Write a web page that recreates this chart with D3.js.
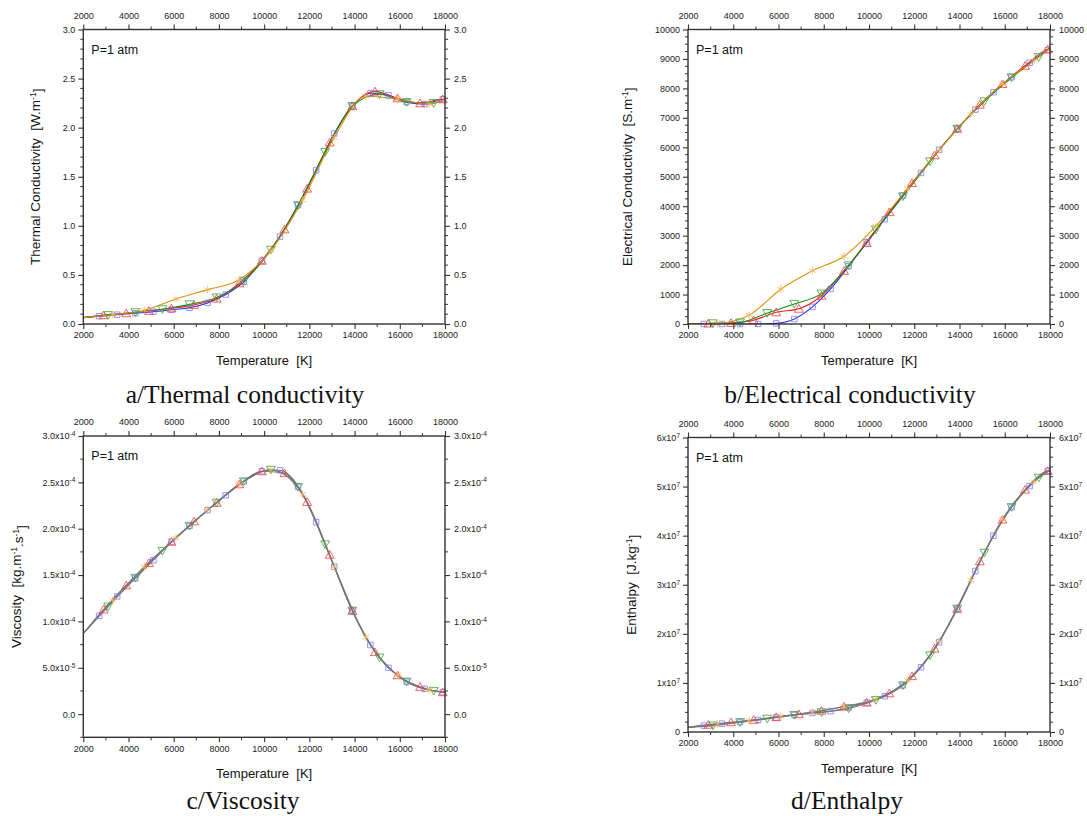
<!DOCTYPE html>
<html><head><meta charset="utf-8">
<script src="https://cdn.jsdelivr.net/npm/d3@7"></script>
<style>
body{margin:0;background:#fff;}
svg text{white-space:pre;}
</style></head>
<body>
<svg id="chart" width="1087" height="816"></svg>
<script>
// ---------------- DATA ----------------
const xTickValues = [2000,4000,6000,8000,10000,12000,14000,16000,18000];
const xTickLabels = ["2000","4000","6000","8000","10000","12000","14000","16000","18000"];
const tempRange = [2000, 18000];

// marker temperatures of each series (K)
const blueT   = [2700,3500,4300,5100,5900,6700,7500,8300,9100,9900,10700,11500,12300,13100,13900,14700,15500,16300,17100,17900];
const redT    = [2900,3900,4900,5900,6900,7900,8900,9900,10900,11900,12900,13900,14900,15900,16900,17900];
const greenT  = [3100,4300,5500,6700,7900,9100,10300,11500,12700,13900,15100,16300,17500];
const orangeT = [3300,4700,6100,7500,8900,10300,11700,13100,14500,15900,17300];

// a/ Thermal conductivity
const thermalBlue   = [0.08,0.095,0.11,0.125,0.145,0.165,0.215,0.30,0.43,0.645,0.89,1.21,1.565,1.94,2.22,2.35,2.33,2.26,2.24,2.29];
const thermalRed    = [0.09,0.11,0.135,0.16,0.195,0.26,0.415,0.645,0.965,1.38,1.85,2.22,2.37,2.30,2.25,2.29];
const thermalGreen  = [0.09,0.12,0.15,0.20,0.27,0.44,0.755,1.21,1.75,2.22,2.34,2.26,2.25];
const thermalOrange = [0.095,0.14,0.255,0.35,0.45,0.75,1.26,1.90,2.32,2.29,2.24];
const thermalEnds   = [0.065, 2.29];
const thermalYTicks = [0,0.5,1.0,1.5,2.0,2.5,3.0];
const thermalYLabels = ["0.0","0.5","1.0","1.5","2.0","2.5","3.0"];

// b/ Electrical conductivity
const elecBlue   = [0,0,0,0,20,170,580,1190,1960,2780,3560,4360,5130,5920,6620,7280,7870,8380,8870,9300];
const elecRed    = [20,40,130,400,520,960,1810,2750,3800,4790,5730,6630,7450,8150,8770,9330];
const elecGreen  = [20,50,370,680,1030,1990,3200,4330,5520,6630,7560,8370,9060];
const elecOrange = [20,300,1180,1810,2300,3320,4590,5910,7130,8150,8950];
const elecEnds   = [0, 9350];
const elecYTicks = [0,1000,2000,3000,4000,5000,6000,7000,8000,9000,10000];
const elecYLabels = ["0","1000","2000","3000","4000","5000","6000","7000","8000","9000","10000"];

// c/ Viscosity
const viscBlue   = [1.06e-4,1.27e-4,1.465e-4,1.66e-4,1.86e-4,2.03e-4,2.20e-4,2.36e-4,2.51e-4,2.62e-4,2.63e-4,2.45e-4,2.07e-4,1.59e-4,1.115e-4,0.745e-4,0.50e-4,0.35e-4,0.273e-4,0.237e-4];
const viscRed    = [1.13e-4,1.39e-4,1.63e-4,1.86e-4,2.08e-4,2.28e-4,2.48e-4,2.62e-4,2.60e-4,2.29e-4,1.72e-4,1.115e-4,0.67e-4,0.42e-4,0.295e-4,0.237e-4];
const viscGreen  = [1.16e-4,1.47e-4,1.76e-4,2.03e-4,2.28e-4,2.51e-4,2.635e-4,2.45e-4,1.83e-4,1.115e-4,0.61e-4,0.35e-4,0.25e-4];
const viscOrange = [1.23e-4,1.59e-4,1.90e-4,2.20e-4,2.48e-4,2.635e-4,2.37e-4,1.59e-4,0.83e-4,0.42e-4,0.26e-4];
const viscEnds   = [0.87e-4, 0.235e-4];
const viscYTicks = [0,5e-5,1e-4,1.5e-4,2e-4,2.5e-4,3e-4];
const viscYLabels = [["0.0",""],["5.0x10","-5"],["1.0x10","-4"],["1.5x10","-4"],["2.0x10","-4"],["2.5x10","-4"],["3.0x10","-4"]];

// d/ Enthalpy
const enthBlue   = [0.13e7,0.17e7,0.20e7,0.245e7,0.295e7,0.345e7,0.39e7,0.425e7,0.50e7,0.60e7,0.73e7,0.95e7,1.32e7,1.83e7,2.51e7,3.28e7,4.00e7,4.58e7,5.01e7,5.32e7];
const enthRed    = [0.15e7,0.20e7,0.25e7,0.305e7,0.365e7,0.435e7,0.52e7,0.60e7,0.79e7,1.14e7,1.70e7,2.51e7,3.48e7,4.33e7,4.94e7,5.32e7];
const enthGreen  = [0.13e7,0.20e7,0.27e7,0.345e7,0.40e7,0.48e7,0.65e7,0.95e7,1.56e7,2.51e7,3.65e7,4.58e7,5.18e7];
const enthOrange = [0.16e7,0.23e7,0.32e7,0.40e7,0.52e7,0.67e7,1.05e7,1.85e7,3.09e7,4.33e7,5.10e7];
const enthEnds   = [0.095e7, 5.33e7];
const enthYTicks = [0,1e7,2e7,3e7,4e7,5e7,6e7];
const enthYLabels = [["0",""],["1x10","7"],["2x10","7"],["3x10","7"],["4x10","7"],["5x10","7"],["6x10","7"]];

// ---------------- DRAW ----------------
const svg = d3.select("#chart");
svg.append("rect").attr("width",1087).attr("height",816).attr("fill","#fff");
const SANS = "'Liberation Sans', Arial, sans-serif";
const SERIF = "'Liberation Serif', 'Times New Roman', serif";

const markerStyles = [
  {line:"#2b2bdc", mark:"#7b7bff", sym:d3.symbolSquare, size:30, rot:0},
  {line:"#e62020", mark:"#ff3a3a", sym:d3.symbolTriangle, size:34, rot:0},
  {line:"#118a11", mark:"#3aa53a", sym:d3.symbolTriangle, size:34, rot:180},
  {line:"#e0900a", mark:"#f2b45a", sym:(d3.symbolAsterisk||d3.symbolStar), size:42, rot:0}
];

function addSup(textSel, main, sup, supSize){
  textSel.append("tspan").text(main);
  if (sup) {
    textSel.append("tspan").attr("dy","-0.5em").attr("font-size",supSize).text(sup);
  }
}

function panel(cfg){
  const g = svg.append("g");
  const x = d3.scaleLinear().domain(tempRange).range([cfg.x0, cfg.x1]);
  const y = d3.scaleLinear().domain(cfg.yDomain).range([cfg.y1, cfg.y0]);
  const axisColor = "#333";

  // minor ticks
  const minorX = d3.range(3000, 18000, 2000);
  const minorY = [];
  for (let v = cfg.yDomain[0]; v <= cfg.yDomain[1] + 1e-12*Math.abs(cfg.yDomain[1]); v += cfg.yMinor) {
    const isMajor = cfg.yTicks.some(t => Math.abs(t - v) < cfg.yMinor*1e-3);
    if (!isMajor) minorY.push(v);
  }
  const mg = g.append("g").attr("stroke", axisColor).attr("stroke-width",1);
  minorX.forEach(v=>{
    mg.append("line").attr("x1",x(v)).attr("x2",x(v)).attr("y1",cfg.y1).attr("y2",cfg.y1+3);
    mg.append("line").attr("x1",x(v)).attr("x2",x(v)).attr("y1",cfg.y0).attr("y2",cfg.y0-3);
  });
  minorY.forEach(v=>{
    mg.append("line").attr("x1",cfg.x0).attr("x2",cfg.x0-3).attr("y1",y(v)).attr("y2",y(v));
    mg.append("line").attr("x1",cfg.x1).attr("x2",cfg.x1+3).attr("y1",y(v)).attr("y2",y(v));
  });

  // major axes
  const styleAxis = sel => {
    sel.select(".domain").remove();
    sel.selectAll(".tick line").attr("stroke", axisColor).attr("stroke-width",1.1);
    sel.selectAll("text").attr("font-family",SANS).attr("font-size",9).attr("fill","#222");
  };
  g.append("g").attr("transform",`translate(0,${cfg.y1})`)
    .call(d3.axisBottom(x).tickValues(xTickValues).tickSize(5).tickPadding(3).tickFormat((d,i)=>xTickLabels[i]))
    .call(styleAxis);
  g.append("g").attr("transform",`translate(0,${cfg.y0})`)
    .call(d3.axisTop(x).tickValues(xTickValues).tickSize(5).tickPadding(6).tickFormat((d,i)=>xTickLabels[i]))
    .call(styleAxis);
  const lab = (d,i)=> Array.isArray(cfg.yLabels[i]) ? "" : cfg.yLabels[i];
  const ayL = g.append("g").attr("transform",`translate(${cfg.x0},0)`)
    .call(d3.axisLeft(y).tickValues(cfg.yTicks).tickSize(5).tickPadding(3).tickFormat(lab))
    .call(styleAxis);
  const ayR = g.append("g").attr("transform",`translate(${cfg.x1},0)`)
    .call(d3.axisRight(y).tickValues(cfg.yTicks).tickSize(5).tickPadding(4).tickFormat(lab))
    .call(styleAxis);
  if (Array.isArray(cfg.yLabels[0])) {
    [ayL, ayR].forEach(ax=>{
      ax.selectAll(".tick text").each(function(d,i){
        const t = d3.select(this);
        t.text("");
        addSup(t, cfg.yLabels[i][0], cfg.yLabels[i][1], 6.5);
      });
    });
  }

  // clip
  const cid = "clip"+cfg.id;
  svg.append("clipPath").attr("id",cid).append("rect")
    .attr("x",cfg.x0).attr("y",cfg.y0).attr("width",cfg.x1-cfg.x0).attr("height",cfg.y1-cfg.y0);

  const line = d3.line().x(d=>x(d[0])).y(d=>y(d[1])).curve(d3.curveMonotoneX);
  const lg = g.append("g").attr("clip-path",`url(#${cid})`);
  cfg.series.forEach((s,i)=>{
    const pts = [[tempRange[0], cfg.ends[0]]].concat(s.T.map((t,j)=>[t, s.V[j]])).concat([[tempRange[1], cfg.ends[1]]]);
    lg.append("path").attr("d", line(pts)).attr("fill","none")
      .attr("stroke", cfg.lineColor || markerStyles[i].line).attr("stroke-width",1.1);
  });
  cfg.series.forEach((s,i)=>{
    const st = markerStyles[i];
    const sym = d3.symbol().type(st.sym).size(st.size);
    g.append("g").selectAll("path").data(s.T.map((t,j)=>[t, s.V[j]])).join("path")
      .attr("d", sym)
      .attr("transform", d=>`translate(${x(d[0])},${y(d[1]) + (st.sym===d3.symbolTriangle ? (st.rot?-1:1) : 0)}) rotate(${st.rot})`)
      .attr("fill","none").attr("stroke", st.mark).attr("stroke-width",0.9).attr("stroke-opacity",0.9);
  });

  // frame
  g.append("rect").attr("x",cfg.x0).attr("y",cfg.y0).attr("width",cfg.x1-cfg.x0).attr("height",cfg.y1-cfg.y0)
    .attr("fill","none").attr("stroke",axisColor).attr("stroke-width",1.4);

  // P=1 atm
  g.append("text").attr("x",cfg.x0+8).attr("y",cfg.y0+24).attr("font-family",SANS).attr("font-size",12.5)
    .attr("fill","#111").text("P=1 atm");

  // x title
  g.append("text").attr("x",(cfg.x0+cfg.x1)/2).attr("y",cfg.y1+41).attr("text-anchor","middle")
    .attr("font-family",SANS).attr("font-size",13).attr("fill","#111").text("Temperature  [K]");

  // y title
  const yt = g.append("text").attr("transform",`translate(${cfg.yTitleX},${(cfg.y0+cfg.y1)/2}) rotate(-90)`)
    .attr("text-anchor","middle").attr("font-family",SANS).attr("font-size",13.5).attr("fill","#111");
  cfg.yTitle.forEach((p,k)=>{
    if (k%2===0) yt.append("tspan").attr("dy", k===0?0:"0.45em").text(p);
    else yt.append("tspan").attr("dy","-0.45em").attr("font-size",8.5).text(p);
  });

  // caption
  svg.append("text").attr("x",cfg.capX).attr("y",cfg.capY).attr("text-anchor","middle")
    .attr("font-family",SERIF).attr("font-size",25.5).attr("fill","#111").text(cfg.caption);
}

panel({id:"a", x0:83.3, x1:445, y0:29.5, y1:324, yDomain:[0,3], yTicks:thermalYTicks, yLabels:thermalYLabels, yMinor:0.1,
  ends:thermalEnds, series:[{T:blueT,V:thermalBlue},{T:redT,V:thermalRed},{T:greenT,V:thermalGreen},{T:orangeT,V:thermalOrange}],
  yTitle:["Thermal Conductivity  [W.m","-1","]"], yTitleX:40, caption:"a/Thermal conductivity", capX:245, capY:403});

panel({id:"b", x0:688, x1:1050, y0:29.5, y1:324, yDomain:[0,10000], yTicks:elecYTicks, yLabels:elecYLabels, yMinor:250,
  ends:elecEnds, series:[{T:blueT,V:elecBlue},{T:redT,V:elecRed},{T:greenT,V:elecGreen},{T:orangeT,V:elecOrange}],
  yTitle:["Electrical Conductivity  [S.m","-1","]"], yTitleX:632, caption:"b/Electrical conductivity", capX:850, capY:403});

panel({id:"c", x0:83.3, x1:445, y0:436, y1:737.3, yDomain:[-2.5e-5,3e-4], yTicks:viscYTicks, yLabels:viscYLabels, yMinor:2.5e-5,
  ends:viscEnds, series:[{T:blueT,V:viscBlue},{T:redT,V:viscRed},{T:greenT,V:viscGreen},{T:orangeT,V:viscOrange}],
  lineColor:"#777", yTitle:["Viscosity  [kg.m","-1",".s","-1","]"], yTitleX:21, caption:"c/Viscosity", capX:243, capY:809});

panel({id:"d", x0:688, x1:1050, y0:437.5, y1:732, yDomain:[0,6e7], yTicks:enthYTicks, yLabels:enthYLabels, yMinor:2e6,
  ends:enthEnds, series:[{T:blueT,V:enthBlue},{T:redT,V:enthRed},{T:greenT,V:enthGreen},{T:orangeT,V:enthOrange}],
  lineColor:"#777", yTitle:["Enthalpy  [J.kg","-1","]"], yTitleX:636, caption:"d/Enthalpy", capX:847, capY:809});
</script>
</body></html>
